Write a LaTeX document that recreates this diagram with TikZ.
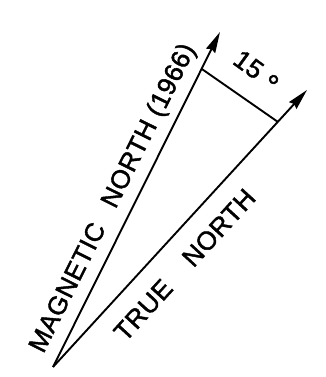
\documentclass[tikz,border=0pt]{standalone}
\usepackage{fontspec}
\setmainfont{Liberation Sans}
\newfontfamily\letteringfont[LetterSpace=2,FakeBold=1.6]{Liberation Sans}
\usepackage{tikz}
\usetikzlibrary{arrows.meta,calc}
\tikzset{
  northline/.style={-{Stealth[length=21pt,width=10pt,inset=2pt]},line width=1.9pt,draw=black},
  chord/.style={line width=1.9pt,draw=black},
  lettering/.style={font=\fontsize{26}{26}\selectfont\letteringfont,inner sep=0pt,text=black}
}

\begin{document}
\begin{tikzpicture}[x=1pt,y=1pt]
  \useasboundingbox (0,0) rectangle (325,377);
  \coordinate (o) at (53,10);
  \coordinate (mag) at (220,345);
  \coordinate (tru) at (307,287);
  \coordinate (a) at ($(o)!0.89!(mag)$);
  \coordinate (b) at ($(o)!0.885!(tru)$);
  \draw[northline] (o) -- (mag);
  \draw[northline] (o) -- (tru);
  \draw[chord] (a) -- (b);
  \node[lettering,rotate=63.5] (maglabel) at ($(o)!0.475!(mag)!21pt!90:(mag)$) {MAGNETIC\hspace{0.8em}NORTH (1966)};
  \node[lettering,rotate=47.5] (trulabel) at ($(o)!0.437!(tru)!28pt!-90:(tru)$) {TRUE\hspace{1.1em}NORTH};
  \node[lettering,rotate=-36] (deg) at ($(a)!0.5!(b)!27pt!90:(b)$) {15\hspace{0.3em}\raisebox{-0.25em}{\fontsize{32}{32}\selectfont °}};
\end{tikzpicture}
\end{document}
